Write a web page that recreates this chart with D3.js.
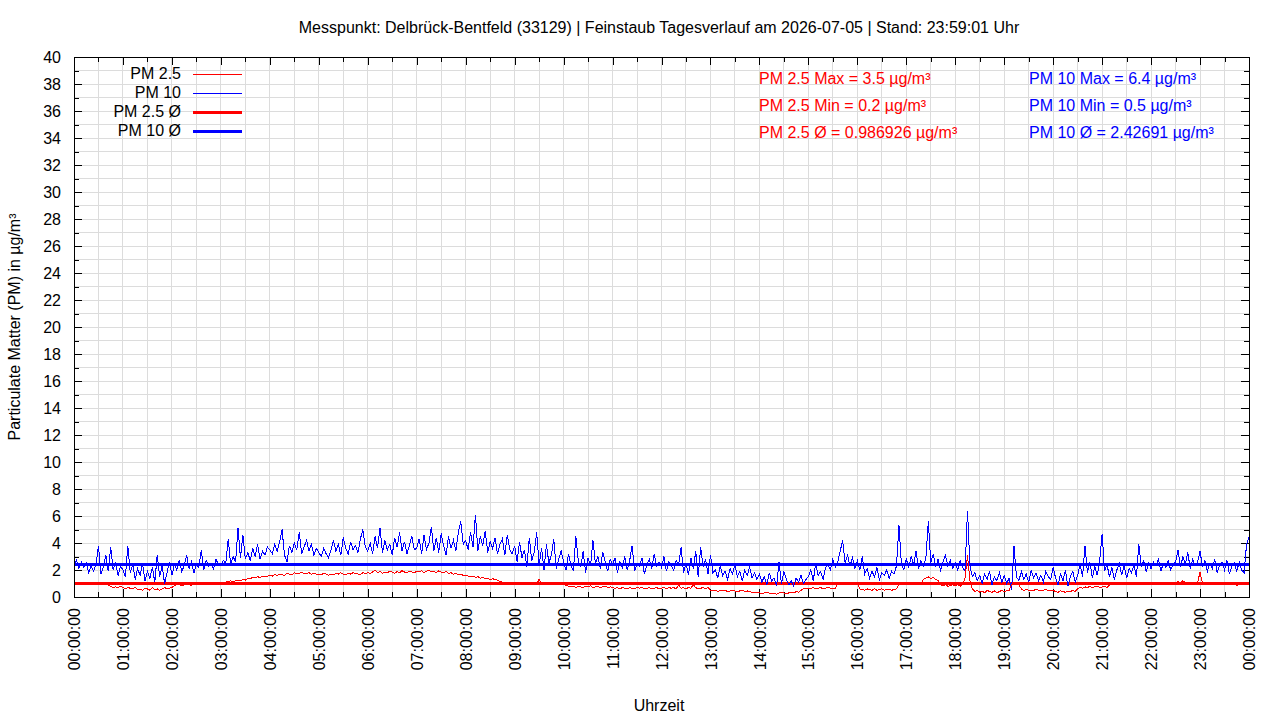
<!DOCTYPE html>
<html lang="de">
<head>
<meta charset="utf-8">
<title>Feinstaub Tagesverlauf</title>
<script src="https://d3js.org/d3.v7.min.js"></script>
<style>
  body { margin: 0; background: #fff; }
  svg text { font-family: "Liberation Sans", Arial, sans-serif; font-size: 16px; fill: #000; }
  svg line, svg path, svg rect { shape-rendering: crispEdges; }
  .grid line { stroke: #dcdcdc; stroke-width: 1; }
</style>
</head>
<body>
<script>
// one reading every 3 minutes, one line per hour, last value is 24:00
var stepMin = 3;

var pm10 = [
  2.4, 2.7, 2.1, 2.6, 2.2, 2.5, 1.8, 2.3, 1.9, 2.4, 3.8, 1.7, 2.2, 3.1, 1.9, 3.7, 2.0, 2.6, 1.6, 2.3,
  2.0, 1.5, 3.8, 1.8, 2.4, 1.3, 2.1, 1.6, 2.5, 1.2, 1.9, 1.4, 2.2, 1.1, 3.1, 1.5, 2.3, 1.0, 1.8, 2.6,
  1.6, 2.4, 2.0, 2.7, 1.9, 2.3, 3.1, 2.1, 2.6, 1.8, 2.4, 2.2, 3.5, 2.0, 2.7, 2.3, 2.5, 2.1, 2.8, 2.4,
  2.3, 2.7, 2.5, 4.3, 2.4, 3.0, 2.6, 5.1, 2.9, 4.6, 2.8, 3.3, 2.7, 3.6, 3.0, 3.9, 2.8, 3.4, 3.1, 3.7,
  3.5, 3.2, 3.9, 3.4, 4.1, 5.0, 3.1, 2.6, 3.8, 3.3, 4.0, 3.5, 4.8, 3.2, 3.7, 4.2, 3.4, 3.9, 3.1, 3.6,
  3.3, 3.0, 3.6, 3.2, 2.9, 3.5, 4.2, 3.4, 3.9, 3.1, 4.4, 3.6, 3.2, 4.1, 3.5, 3.8, 3.3, 4.3, 5.0, 3.7,
  3.4, 4.0, 3.2, 4.5, 3.6, 5.1, 3.3, 4.2, 3.5, 3.9, 3.1, 4.4, 3.7, 4.8, 3.4, 4.1, 3.2, 3.8, 4.5, 3.5,
  3.6, 4.3, 3.2, 4.6, 3.5, 4.0, 5.2, 3.4, 4.4, 3.3, 4.7, 3.8, 3.1, 4.5, 3.6, 4.2, 3.4, 4.8, 5.6, 3.9,
  4.2, 3.5, 4.8, 3.7, 6.1, 3.4, 4.5, 3.8, 4.9, 3.3, 4.1, 3.6, 4.4, 3.2, 3.9, 4.3, 3.1, 4.6, 3.5, 3.2,
  3.8, 2.6, 4.1, 2.9, 3.5, 2.2, 4.4, 2.7, 3.3, 4.8, 2.4, 3.6, 2.0, 3.9, 2.5, 3.1, 4.3, 2.1, 2.8, 3.4,
  2.6, 2.0, 3.2, 2.4, 1.9, 4.5, 2.7, 2.2, 3.4, 1.8, 2.9, 2.3, 4.2, 2.5, 3.0, 2.1, 3.3, 2.6, 1.9, 2.8,
  2.4, 2.9, 1.8, 2.6, 2.2, 3.0, 2.0, 2.7, 3.8, 1.9, 2.5, 2.3, 2.9, 1.7, 2.4, 2.8, 2.1, 3.2, 2.3, 2.6,
  2.2, 3.0, 1.9, 2.6, 2.3, 2.0, 2.7, 2.4, 3.7, 1.8, 2.5, 1.6, 2.9, 2.1, 3.4, 1.5, 3.7, 2.2, 2.8, 1.7,
  3.1, 1.8, 2.0, 1.4, 2.3, 1.6, 1.9, 1.3, 2.1, 1.7, 2.4, 1.5, 1.9, 1.2, 2.0, 1.6, 2.2, 1.4, 1.8, 1.3,
  1.7, 1.1, 1.5, 0.9, 1.8, 1.2, 1.4, 0.8, 2.6, 1.0, 1.9, 1.3, 0.9, 1.2, 0.8, 1.4, 1.1, 1.6, 1.0, 1.3,
  1.5, 2.0, 1.2, 2.5, 1.6, 1.9, 1.3, 2.2, 2.4, 2.0, 2.8, 2.2, 2.6, 3.4, 4.2, 2.5, 3.1, 2.3, 2.9, 2.1,
  2.7, 2.0, 3.0, 1.7, 2.1, 1.4, 1.9, 1.5, 2.2, 1.3, 1.8, 1.6, 2.0, 1.4, 1.9, 1.7, 2.3, 5.3, 2.4, 2.0,
  2.8, 2.2, 3.0, 2.4, 3.4, 2.1, 2.7, 2.3, 2.9, 5.6, 2.5, 3.2, 2.2, 2.8, 2.0, 2.6, 3.1, 2.3, 2.7, 2.1,
  2.5, 2.0, 2.7, 2.2, 1.9, 6.4, 2.3, 1.5, 1.8, 1.2, 1.6, 1.0, 1.7, 1.3, 1.9, 0.9, 1.5, 1.2, 1.8, 1.1,
  1.6, 1.0, 1.4, 0.5, 3.8, 1.5, 1.2, 1.9, 1.3, 1.7, 1.1, 2.0, 1.4, 1.8, 1.2, 1.6, 1.1, 1.9, 1.5, 1.3,
  2.2, 1.4, 0.9, 1.7, 1.2, 2.0, 0.8, 1.5, 1.9, 1.1, 1.6, 2.4, 1.5, 3.8, 1.8, 2.6, 1.4, 2.3, 1.6, 2.7,
  4.7, 1.9, 2.4, 1.5, 2.2, 1.3, 2.0, 2.5, 1.6, 2.3, 1.4, 2.1, 1.8, 2.4, 1.5, 3.9, 2.2, 2.7, 1.9, 2.5,
  2.1, 2.6, 2.3, 2.8, 1.9, 2.5, 2.2, 2.7, 2.0, 2.4, 2.6, 3.5, 2.2, 3.0, 2.4, 3.3, 2.1, 2.8, 2.3, 2.6,
  3.4, 2.2, 2.7, 1.9, 2.5, 2.1, 2.8, 1.8, 2.4, 2.6, 2.0, 2.7, 1.7, 2.3, 2.5, 1.9, 2.6, 2.0, 1.8, 3.9,
  4.4
];

var pm25 = [
  1.0, 0.9, 1.0, 1.1, 0.9, 1.0, 0.9, 1.0, 0.95, 1.0, 0.9, 1.0, 0.9, 0.95, 0.9, 0.8, 0.7, 0.75, 0.7, 0.8,
  0.7, 0.6, 0.7, 0.65, 0.6, 0.7, 0.55, 0.6, 0.5, 0.65, 0.6, 0.5, 0.7, 0.55, 0.6, 0.5, 0.6, 0.7, 0.6, 0.65,
  0.7, 0.85, 0.9, 0.9, 0.85, 0.9, 0.9, 0.95, 0.85, 1.0, 1.0, 0.95, 1.0, 1.05, 1.0, 0.95, 1.0, 1.05, 1.0, 1.0,
  1.05, 1.1, 1.1, 1.15, 1.2, 1.1, 1.2, 1.25, 1.2, 1.3, 1.25, 1.4, 1.35, 1.45, 1.4, 1.5, 1.45, 1.55, 1.5, 1.55,
  1.6, 1.55, 1.65, 1.6, 1.7, 1.65, 1.6, 1.75, 1.7, 1.65, 1.8, 1.7, 1.75, 1.85, 1.7, 1.75, 1.8, 1.7, 1.75, 1.7,
  1.7, 1.65, 1.75, 1.7, 1.6, 1.7, 1.65, 1.75, 1.7, 1.8, 1.7, 1.65, 1.75, 1.7, 1.8, 1.75, 1.7, 1.65, 1.8, 1.75,
  1.8, 1.75, 1.85, 2.0, 1.8, 1.9, 1.75, 1.85, 1.8, 1.9, 1.85, 1.75, 1.9, 1.8, 1.95, 1.85, 1.8, 1.9, 1.85, 1.8,
  1.9, 1.85, 1.95, 1.8, 1.9, 2.0, 1.85, 1.9, 1.8, 1.95, 1.85, 1.8, 1.9, 1.75, 1.8, 1.7, 1.75, 1.65, 1.7, 1.6,
  1.6, 1.55, 1.5, 1.55, 1.45, 1.5, 1.4, 1.45, 1.35, 1.4, 1.3, 1.35, 1.3, 1.25, 1.15, 1.1, 1.05, 1.1, 1.0, 1.05,
  1.0, 1.05, 0.95, 1.1, 1.0, 0.95, 1.05, 1.0, 1.1, 0.95, 1.3, 1.0, 1.05, 0.95, 1.0, 0.9, 1.0, 0.95, 0.9, 1.0,
  0.95, 0.85, 0.8, 0.75, 0.8, 0.7, 0.8, 0.75, 0.7, 0.8, 0.75, 0.85, 0.7, 0.75, 0.8, 0.7, 0.75, 0.8, 0.7, 0.75,
  0.7, 0.65, 0.7, 0.6, 0.7, 0.65, 0.6, 0.7, 0.65, 0.6, 0.7, 0.65, 0.7, 0.6, 0.65, 0.7, 0.6, 0.65, 0.7, 0.6,
  0.65, 0.7, 0.6, 0.7, 0.65, 0.7, 0.6, 0.9, 0.65, 0.7, 0.6, 0.7, 0.65, 0.9, 0.7, 0.6, 0.65, 0.7, 0.6, 0.7,
  0.5, 0.45, 0.5, 0.4, 0.5, 0.45, 0.5, 0.4, 0.45, 0.5, 0.45, 0.4, 0.45, 0.5, 0.4, 0.45, 0.4, 0.35, 0.3, 0.35,
  0.3, 0.25, 0.3, 0.35, 0.3, 0.25, 0.3, 0.2, 0.3, 0.35, 0.3, 0.25, 0.3, 0.35, 0.3, 0.4, 0.35, 0.5, 0.6, 0.65,
  0.6, 0.65, 0.7, 0.6, 0.65, 0.7, 0.6, 0.65, 0.7, 0.65, 0.6, 0.65, 1.0, 1.05, 1.1, 1.0, 1.05, 1.0, 1.1, 1.05,
  1.0, 0.6, 0.55, 0.5, 0.6, 0.55, 0.5, 0.6, 0.5, 0.55, 0.6, 0.5, 0.55, 0.6, 0.5, 0.55, 0.6, 0.95, 0.9, 1.0,
  0.95, 0.9, 1.0, 0.95, 0.9, 1.0, 0.95, 1.3, 1.4, 1.5, 1.35, 1.45, 1.3, 1.2, 0.9, 0.85, 0.9, 0.8, 0.85, 0.9,
  0.85, 0.9, 0.8, 0.9, 1.4, 3.1, 1.2, 0.6, 0.4, 0.5, 0.35, 0.45, 0.3, 0.5, 0.4, 0.35, 0.45, 0.3, 0.4, 0.5,
  0.4, 0.45, 0.5, 0.9, 1.0, 0.95, 0.9, 0.6, 0.5, 0.55, 0.5, 0.45, 0.5, 0.55, 0.5, 0.45, 0.5, 0.55, 0.5, 0.45,
  0.5, 0.4, 0.35, 0.45, 0.4, 0.35, 0.45, 0.4, 0.5, 0.4, 0.6, 0.7, 0.65, 0.75, 0.7, 0.8, 0.7, 0.75, 0.8, 0.7,
  0.75, 0.8, 0.7, 0.9, 0.95, 1.0, 0.9, 1.0, 0.95, 1.05, 0.9, 1.0, 0.95, 1.0, 1.05, 0.95, 1.0, 0.9, 1.0, 0.95,
  1.0, 0.95, 1.05, 1.0, 0.9, 1.0, 1.05, 0.95, 1.0, 1.1, 1.0, 1.15, 1.05, 1.2, 1.1, 1.0, 1.05, 0.95, 1.0, 1.05,
  1.85, 1.0, 0.95, 1.05, 1.0, 0.9, 1.0, 0.95, 1.05, 0.9, 1.0, 0.95, 0.9, 1.0, 0.95, 0.85, 1.0, 0.9, 0.95, 0.9,
  0.9
];

// averages as printed on the chart
var pm25Avg = 0.986926;
var pm10Avg = 2.42691;

var hourLabels = ["00:00:00", "01:00:00", "02:00:00", "03:00:00", "04:00:00", "05:00:00",
  "06:00:00", "07:00:00", "08:00:00", "09:00:00", "10:00:00", "11:00:00", "12:00:00",
  "13:00:00", "14:00:00", "15:00:00", "16:00:00", "17:00:00", "18:00:00", "19:00:00",
  "20:00:00", "21:00:00", "22:00:00", "23:00:00", "00:00:00"];

var legendLabels = ["PM 2.5", "PM 10", "PM 2.5 Ø", "PM 10 Ø"];
var pm25Stats = ["PM 2.5 Max = 3.5 µg/m³", "PM 2.5 Min = 0.2 µg/m³", "PM 2.5 Ø = 0.986926 µg/m³"];
var pm10Stats = ["PM 10 Max = 6.4 µg/m³", "PM 10 Min = 0.5 µg/m³", "PM 10 Ø = 2.42691 µg/m³"];

var titleText = "Messpunkt: Delbrück-Bentfeld (33129) | Feinstaub Tagesverlauf am 2026-07-05 | Stand: 23:59:01 Uhr";

var width = 1280, height = 720,
    plotLeft = 74, plotRight = 1249, plotTop = 57, plotBottom = 597;

//Create SVG element
var svg = d3.select("body")
  .append("svg")
  .attr("width", width)
  .attr("height", height);

//Scales: minutes of the day and µg/m³
var x = d3.scaleLinear().domain([0, 1440]).range([plotLeft, plotRight]);
var y = d3.scaleLinear().domain([0, 40]).range([plotBottom, plotTop]);

//Grid every 30 minutes and every 1 µg/m³
var grid = svg.append("g").attr("class", "grid");
grid.selectAll(".gx")
  .data(d3.range(30, 1440, 30))
  .enter().append("line")
  .attr("x1", function(d) { return x(d); }).attr("x2", function(d) { return x(d); })
  .attr("y1", plotTop).attr("y2", plotBottom);
grid.selectAll(".gy")
  .data(d3.range(1, 40, 1))
  .enter().append("line")
  .attr("y1", function(d) { return y(d); }).attr("y2", function(d) { return y(d); })
  .attr("x1", plotLeft).attr("x2", plotRight);

//Axes with inward ticks, mirrored on top and right
var hourTicks = d3.range(0, 1441, 60);
var halfTicks = d3.range(30, 1440, 60);

var xAxis = d3.axisBottom(x)
  .tickValues(hourTicks)
  .tickSize(-8)
  .tickFormat(function(d, i) { return hourLabels[i]; });

var gx = svg.append("g")
  .attr("transform", "translate(0," + plotBottom + ")")
  .call(xAxis);
gx.selectAll("text")
  .attr("transform", "rotate(-90)")
  .attr("x", -11)
  .attr("y", 0)
  .attr("dy", "0.35em")
  .style("text-anchor", "end");

svg.append("g").attr("transform", "translate(0," + plotBottom + ")")
  .call(d3.axisBottom(x).tickValues(halfTicks).tickSize(-5).tickFormat(""));
svg.append("g").attr("transform", "translate(0," + plotTop + ")")
  .call(d3.axisTop(x).tickValues(hourTicks).tickSize(-8).tickFormat(""));
svg.append("g").attr("transform", "translate(0," + plotTop + ")")
  .call(d3.axisTop(x).tickValues(halfTicks).tickSize(-5).tickFormat(""));

var yAxis = d3.axisLeft(y)
  .tickValues(d3.range(0, 41, 2))
  .tickSize(-8)
  .tickPadding(13);

svg.append("g")
  .attr("transform", "translate(" + plotLeft + ",0)")
  .call(yAxis);

svg.append("g").attr("transform", "translate(" + plotLeft + ",0)")
  .call(d3.axisLeft(y).tickValues(d3.range(1, 40, 2)).tickSize(-5).tickFormat(""));
svg.append("g").attr("transform", "translate(" + plotRight + ",0)")
  .call(d3.axisRight(y).tickValues(d3.range(0, 41, 2)).tickSize(-8).tickFormat(""));
svg.append("g").attr("transform", "translate(" + plotRight + ",0)")
  .call(d3.axisRight(y).tickValues(d3.range(1, 40, 2)).tickSize(-5).tickFormat(""));

svg.selectAll(".domain").remove();
svg.selectAll(".tick line").attr("stroke", "#000");
svg.selectAll(".tick text").style("font-size", "16px").attr("fill", "#000");

//Average lines
svg.append("line")
  .attr("x1", x(0)).attr("x2", x(1440))
  .attr("y1", y(pm25Avg)).attr("y2", y(pm25Avg))
  .attr("stroke", "#ff0000").attr("stroke-width", 3);
svg.append("line")
  .attr("x1", x(0)).attr("x2", x(1440))
  .attr("y1", y(pm10Avg)).attr("y2", y(pm10Avg))
  .attr("stroke", "#0000ff").attr("stroke-width", 3);

//Series lines
var line = d3.line()
  .x(function(d, i) { return x(i * stepMin); })
  .y(function(d) { return y(d); });

svg.append("path")
  .datum(pm10)
  .attr("d", line)
  .attr("fill", "none")
  .attr("stroke", "#0000ff")
  .attr("stroke-width", 1);

svg.append("path")
  .datum(pm25)
  .attr("d", line)
  .attr("fill", "none")
  .attr("stroke", "#ff0000")
  .attr("stroke-width", 1);

//Plot border
svg.append("rect")
  .attr("x", plotLeft).attr("y", plotTop)
  .attr("width", plotRight - plotLeft).attr("height", plotBottom - plotTop)
  .attr("fill", "none").attr("stroke", "#000").attr("stroke-width", 1);

//Legend
var legendColors = ["#ff0000", "#0000ff", "#ff0000", "#0000ff"];
var legendWidths = [1, 1, 3, 3];
var legend = svg.append("g");
legend.selectAll("text")
  .data(legendLabels)
  .enter().append("text")
  .attr("x", 181)
  .attr("y", function(d, i) { return 79 + i * 19; })
  .style("text-anchor", "end")
  .text(function(d) { return d; });
legend.selectAll("line")
  .data(legendLabels)
  .enter().append("line")
  .attr("x1", 193).attr("x2", 242)
  .attr("y1", function(d, i) { return 74 + i * 19; })
  .attr("y2", function(d, i) { return 74 + i * 19; })
  .attr("stroke", function(d, i) { return legendColors[i]; })
  .attr("stroke-width", function(d, i) { return legendWidths[i]; });

//Statistics
svg.selectAll(".s25")
  .data(pm25Stats)
  .enter().append("text")
  .attr("x", 759)
  .attr("y", function(d, i) { return 84 + i * 27; })
  .style("fill", "#ff0000")
  .text(function(d) { return d; });
svg.selectAll(".s10")
  .data(pm10Stats)
  .enter().append("text")
  .attr("x", 1029)
  .attr("y", function(d, i) { return 84 + i * 27; })
  .style("fill", "#0000ff")
  .text(function(d) { return d; });

//Titles
svg.append("text")
  .attr("x", 659).attr("y", 33)
  .style("text-anchor", "middle")
  .text(titleText);

svg.append("text")
  .attr("x", 659).attr("y", 711)
  .style("text-anchor", "middle")
  .text("Uhrzeit");

svg.append("text")
  .attr("transform", "translate(14," + ((plotTop + plotBottom) / 2) + ") rotate(-90)")
  .attr("dy", "0.35em")
  .style("text-anchor", "middle")
  .text("Particulate Matter (PM) in µg/m³");
</script>
</body>
</html>
